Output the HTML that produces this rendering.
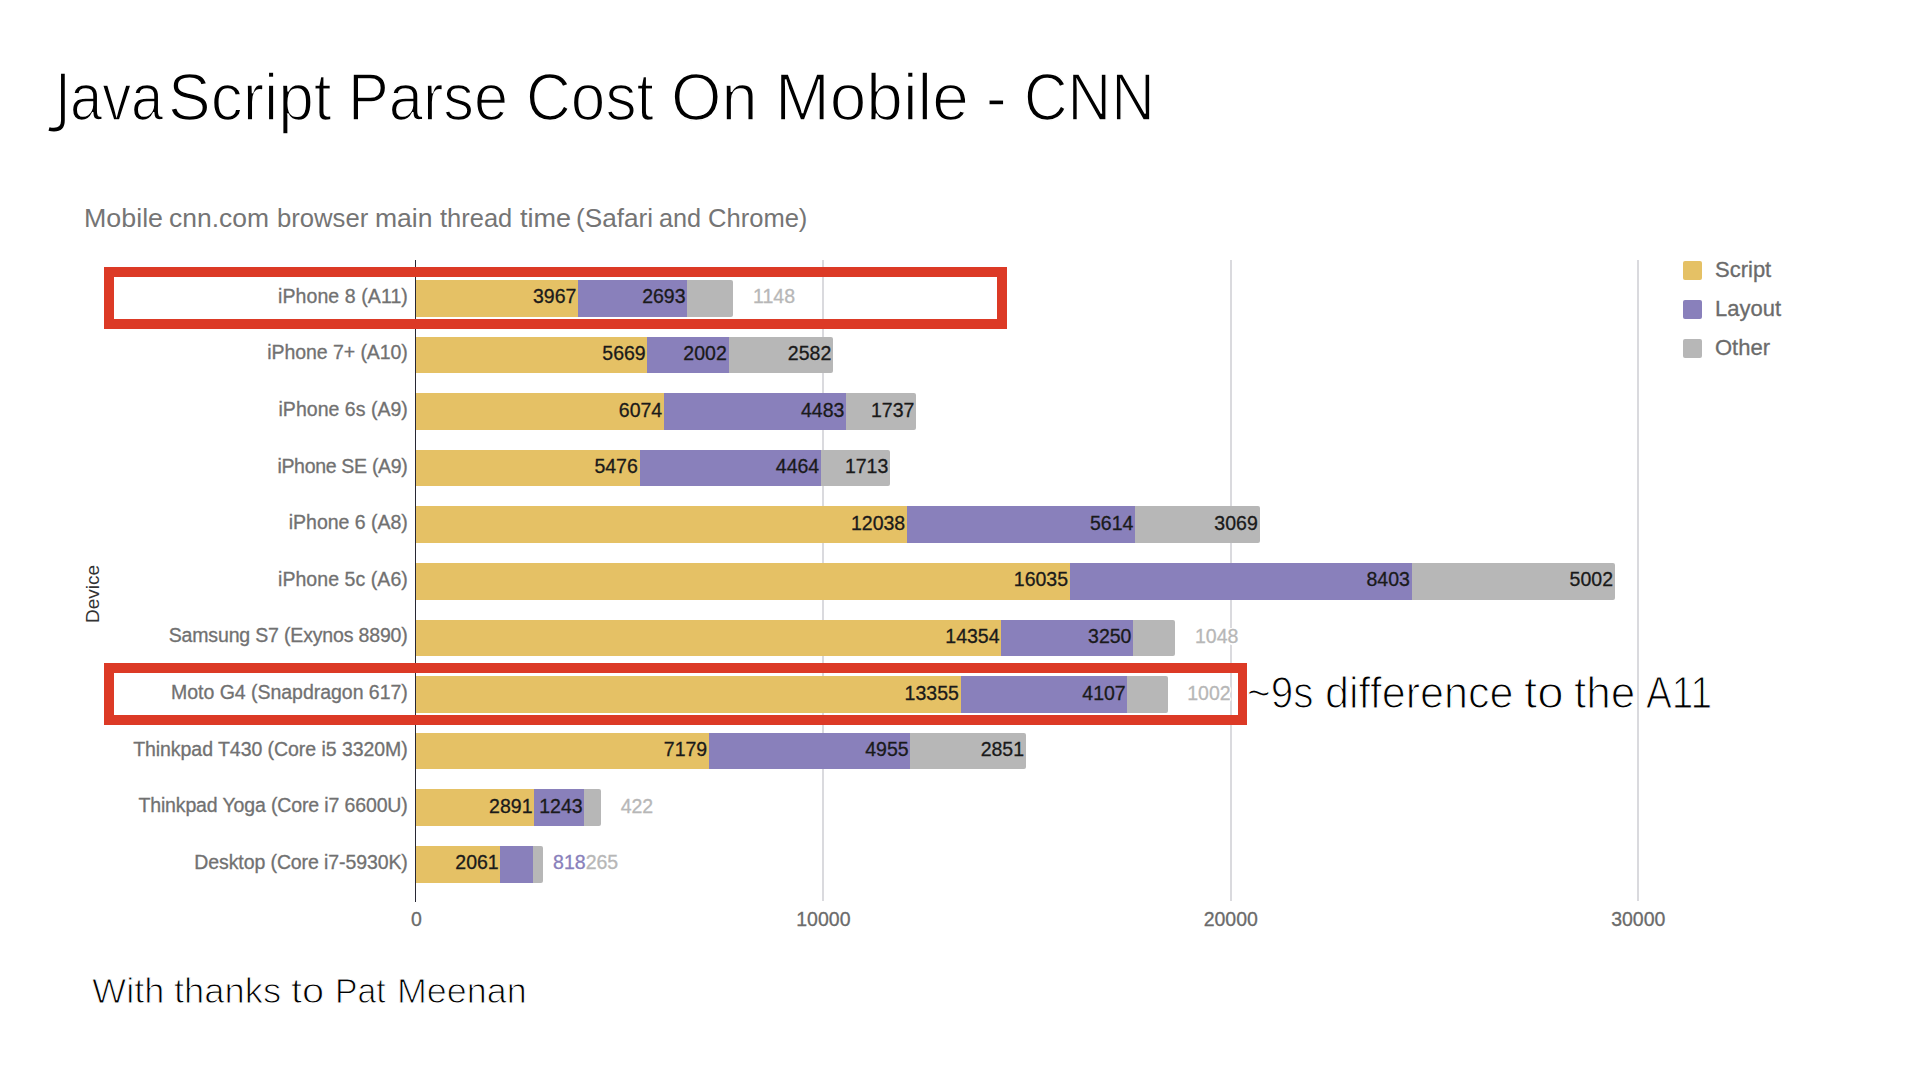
<!DOCTYPE html>
<html><head><meta charset="utf-8"><title>JavaScript Parse Cost On Mobile - CNN</title>
<style>
html,body{margin:0;padding:0;background:#fff;}
body{width:1920px;height:1080px;position:relative;overflow:hidden;font-family:"Liberation Sans", sans-serif;}
div{box-sizing:border-box;}
.bar{position:absolute;}
.ch{-webkit-text-stroke:0.3px currentColor;}
.halo{text-shadow:-1.5px 0 #fff,1.5px 0 #fff,0 -1.5px #fff,0 1.5px #fff,-1px -1px #fff,1px 1px #fff,-1px 1px #fff,1px -1px #fff;}
</style></head><body>
<svg style="position:absolute;left:0;top:0" width="120" height="140"><path d="M62.9,73.8 V120.5 C62.9,127 59.5,129.6 54,129.6 C52,129.6 50.5,129.4 49,129" fill="none" stroke="#000" stroke-width="3.7"/></svg>
<div style="position:absolute;top:64.11px;font-size:66.5px;line-height:66.5px;color:#000;white-space:nowrap;-webkit-text-stroke:1.6px #fff;left:70.34px;transform:scaleX(0.8699);transform-origin:0 0;">ava</div>
<div style="position:absolute;top:64.11px;font-size:66.5px;line-height:66.5px;color:#000;white-space:nowrap;-webkit-text-stroke:1.6px #fff;left:167.64px;transform:scaleX(0.9621);transform-origin:0 0;">Script</div>
<div style="position:absolute;top:64.11px;font-size:66.5px;line-height:66.5px;color:#000;white-space:nowrap;-webkit-text-stroke:1.6px #fff;left:348.38px;transform:scaleX(0.9209);transform-origin:0 0;">Parse</div>
<div style="position:absolute;top:64.11px;font-size:66.5px;line-height:66.5px;color:#000;white-space:nowrap;-webkit-text-stroke:1.6px #fff;left:526.48px;transform:scaleX(0.9338);transform-origin:0 0;">Cost</div>
<div style="position:absolute;top:64.11px;font-size:66.5px;line-height:66.5px;color:#000;white-space:nowrap;-webkit-text-stroke:1.6px #fff;left:671.05px;transform:scaleX(0.9757);transform-origin:0 0;">On</div>
<div style="position:absolute;top:64.11px;font-size:66.5px;line-height:66.5px;color:#000;white-space:nowrap;-webkit-text-stroke:1.6px #fff;left:774.63px;transform:scaleX(0.9890);transform-origin:0 0;">Mobile</div>
<div style="position:absolute;top:64.11px;font-size:66.5px;line-height:66.5px;color:#000;white-space:nowrap;-webkit-text-stroke:1.6px #fff;left:986.12px;transform:scaleX(0.9300);transform-origin:0 0;">-</div>
<div style="position:absolute;top:64.11px;font-size:66.5px;line-height:66.5px;color:#000;white-space:nowrap;-webkit-text-stroke:1.6px #fff;left:1023.56px;transform:scaleX(0.9073);transform-origin:0 0;">CNN</div>
<div style="position:absolute;top:205.84px;font-size:25px;line-height:25px;color:#757575;white-space:nowrap;left:84.15px;transform:scaleX(1.0729);transform-origin:0 0;">Mobile</div>
<div style="position:absolute;top:205.84px;font-size:25px;line-height:25px;color:#757575;white-space:nowrap;left:169.04px;transform:scaleX(1.0577);transform-origin:0 0;">cnn.com</div>
<div style="position:absolute;top:205.84px;font-size:25px;line-height:25px;color:#757575;white-space:nowrap;left:276.57px;transform:scaleX(1.0264);transform-origin:0 0;">browser</div>
<div style="position:absolute;top:205.84px;font-size:25px;line-height:25px;color:#757575;white-space:nowrap;left:374.94px;transform:scaleX(1.0615);transform-origin:0 0;">main</div>
<div style="position:absolute;top:205.84px;font-size:25px;line-height:25px;color:#757575;white-space:nowrap;left:439.90px;transform:scaleX(1.0188);transform-origin:0 0;">thread</div>
<div style="position:absolute;top:205.84px;font-size:25px;line-height:25px;color:#757575;white-space:nowrap;left:519.50px;transform:scaleX(1.0815);transform-origin:0 0;">time</div>
<div style="position:absolute;top:205.84px;font-size:25px;line-height:25px;color:#757575;white-space:nowrap;left:576.45px;transform:scaleX(1.0453);transform-origin:0 0;">(Safari</div>
<div style="position:absolute;top:205.84px;font-size:25px;line-height:25px;color:#757575;white-space:nowrap;left:659.09px;transform:scaleX(1.0099);transform-origin:0 0;">and</div>
<div style="position:absolute;top:205.84px;font-size:25px;line-height:25px;color:#757575;white-space:nowrap;left:708.18px;transform:scaleX(1.0220);transform-origin:0 0;">Chrome)</div>
<div style="position:absolute;left:822.40px;top:260px;width:2px;height:641px;background:#dadade"></div>
<div style="position:absolute;left:1229.80px;top:260px;width:2px;height:641px;background:#dadade"></div>
<div style="position:absolute;left:1637.30px;top:260px;width:2px;height:641px;background:#dadade"></div>
<div class="bar" style="left:416.00px;top:280.00px;width:162.13px;height:36.6px;background:#e5c165"></div>
<div class="bar" style="left:578.13px;top:280.00px;width:109.22px;height:36.6px;background:#8980bb"></div>
<div class="bar" style="left:687.35px;top:280.00px;width:46.07px;height:36.6px;background:#b7b7b7;border-radius:0 2px 2px 0"></div>
<div class="ch" style="position:absolute;top:286.89px;font-size:19.5px;line-height:19.5px;color:#717171;white-space:nowrap;letter-spacing:0.086px;right:1512.11px;text-align:right;">iPhone 8 (A11)</div>
<div class="ch" style="position:absolute;top:287.49px;font-size:19.5px;line-height:19.5px;color:#1a1a1a;white-space:nowrap;right:1343.67px;text-align:right;">3967</div>
<div class="ch" style="position:absolute;top:287.49px;font-size:19.5px;line-height:19.5px;color:#1a1a1a;white-space:nowrap;right:1234.45px;text-align:right;">2693</div>
<div class="ch halo" style="position:absolute;top:287.49px;font-size:19.5px;line-height:19.5px;color:#b7b7b7;white-space:nowrap;left:753.12px;">1148</div>
<div class="bar" style="left:416.00px;top:336.60px;width:231.47px;height:36.6px;background:#e5c165"></div>
<div class="bar" style="left:647.47px;top:336.60px;width:81.07px;height:36.6px;background:#8980bb"></div>
<div class="bar" style="left:728.54px;top:336.60px;width:104.50px;height:36.6px;background:#b7b7b7;border-radius:0 2px 2px 0"></div>
<div class="ch" style="position:absolute;top:343.49px;font-size:19.5px;line-height:19.5px;color:#717171;white-space:nowrap;letter-spacing:-0.074px;right:1512.27px;text-align:right;">iPhone 7+ (A10)</div>
<div class="ch" style="position:absolute;top:344.09px;font-size:19.5px;line-height:19.5px;color:#1a1a1a;white-space:nowrap;right:1274.33px;text-align:right;">5669</div>
<div class="ch" style="position:absolute;top:344.09px;font-size:19.5px;line-height:19.5px;color:#1a1a1a;white-space:nowrap;right:1193.26px;text-align:right;">2002</div>
<div class="ch" style="position:absolute;top:344.09px;font-size:19.5px;line-height:19.5px;color:#1a1a1a;white-space:nowrap;right:1088.76px;text-align:right;">2582</div>
<div class="bar" style="left:416.00px;top:393.20px;width:247.98px;height:36.6px;background:#e5c165"></div>
<div class="bar" style="left:663.98px;top:393.20px;width:182.15px;height:36.6px;background:#8980bb"></div>
<div class="bar" style="left:846.13px;top:393.20px;width:70.07px;height:36.6px;background:#b7b7b7;border-radius:0 2px 2px 0"></div>
<div class="ch" style="position:absolute;top:400.09px;font-size:19.5px;line-height:19.5px;color:#717171;white-space:nowrap;letter-spacing:0.025px;right:1512.17px;text-align:right;">iPhone 6s (A9)</div>
<div class="ch" style="position:absolute;top:400.69px;font-size:19.5px;line-height:19.5px;color:#1a1a1a;white-space:nowrap;right:1257.82px;text-align:right;">6074</div>
<div class="ch" style="position:absolute;top:400.69px;font-size:19.5px;line-height:19.5px;color:#1a1a1a;white-space:nowrap;right:1075.67px;text-align:right;">4483</div>
<div class="ch" style="position:absolute;top:400.69px;font-size:19.5px;line-height:19.5px;color:#1a1a1a;white-space:nowrap;right:1005.60px;text-align:right;">1737</div>
<div class="bar" style="left:416.00px;top:449.80px;width:223.61px;height:36.6px;background:#e5c165"></div>
<div class="bar" style="left:639.61px;top:449.80px;width:181.38px;height:36.6px;background:#8980bb"></div>
<div class="bar" style="left:820.99px;top:449.80px;width:69.09px;height:36.6px;background:#b7b7b7;border-radius:0 2px 2px 0"></div>
<div class="ch" style="position:absolute;top:456.69px;font-size:19.5px;line-height:19.5px;color:#717171;white-space:nowrap;letter-spacing:-0.306px;right:1512.51px;text-align:right;">iPhone SE (A9)</div>
<div class="ch" style="position:absolute;top:457.29px;font-size:19.5px;line-height:19.5px;color:#1a1a1a;white-space:nowrap;right:1282.19px;text-align:right;">5476</div>
<div class="ch" style="position:absolute;top:457.29px;font-size:19.5px;line-height:19.5px;color:#1a1a1a;white-space:nowrap;right:1100.81px;text-align:right;">4464</div>
<div class="ch" style="position:absolute;top:457.29px;font-size:19.5px;line-height:19.5px;color:#1a1a1a;white-space:nowrap;right:1031.72px;text-align:right;">1713</div>
<div class="bar" style="left:416.00px;top:506.40px;width:490.97px;height:36.6px;background:#e5c165"></div>
<div class="bar" style="left:906.97px;top:506.40px;width:228.23px;height:36.6px;background:#8980bb"></div>
<div class="bar" style="left:1135.20px;top:506.40px;width:124.34px;height:36.6px;background:#b7b7b7;border-radius:0 2px 2px 0"></div>
<div class="ch" style="position:absolute;top:513.29px;font-size:19.5px;line-height:19.5px;color:#717171;white-space:nowrap;letter-spacing:-0.018px;right:1512.22px;text-align:right;">iPhone 6 (A8)</div>
<div class="ch" style="position:absolute;top:513.89px;font-size:19.5px;line-height:19.5px;color:#1a1a1a;white-space:nowrap;right:1014.83px;text-align:right;">12038</div>
<div class="ch" style="position:absolute;top:513.89px;font-size:19.5px;line-height:19.5px;color:#1a1a1a;white-space:nowrap;right:786.60px;text-align:right;">5614</div>
<div class="ch" style="position:absolute;top:513.89px;font-size:19.5px;line-height:19.5px;color:#1a1a1a;white-space:nowrap;right:662.26px;text-align:right;">3069</div>
<div class="bar" style="left:416.00px;top:563.00px;width:653.82px;height:36.6px;background:#e5c165"></div>
<div class="bar" style="left:1069.82px;top:563.00px;width:341.87px;height:36.6px;background:#8980bb"></div>
<div class="bar" style="left:1411.69px;top:563.00px;width:203.10px;height:36.6px;background:#b7b7b7;border-radius:0 2px 2px 0"></div>
<div class="ch" style="position:absolute;top:569.89px;font-size:19.5px;line-height:19.5px;color:#717171;white-space:nowrap;letter-spacing:0.063px;right:1512.14px;text-align:right;">iPhone 5c (A6)</div>
<div class="ch" style="position:absolute;top:570.49px;font-size:19.5px;line-height:19.5px;color:#1a1a1a;white-space:nowrap;right:851.98px;text-align:right;">16035</div>
<div class="ch" style="position:absolute;top:570.49px;font-size:19.5px;line-height:19.5px;color:#1a1a1a;white-space:nowrap;right:510.11px;text-align:right;">8403</div>
<div class="ch" style="position:absolute;top:570.49px;font-size:19.5px;line-height:19.5px;color:#1a1a1a;white-space:nowrap;right:307.02px;text-align:right;">5002</div>
<div class="bar" style="left:416.00px;top:619.60px;width:585.33px;height:36.6px;background:#e5c165"></div>
<div class="bar" style="left:1001.33px;top:619.60px;width:131.92px;height:36.6px;background:#8980bb"></div>
<div class="bar" style="left:1133.25px;top:619.60px;width:42.00px;height:36.6px;background:#b7b7b7;border-radius:0 2px 2px 0"></div>
<div class="ch" style="position:absolute;top:626.49px;font-size:19.5px;line-height:19.5px;color:#717171;white-space:nowrap;letter-spacing:-0.164px;right:1512.36px;text-align:right;">Samsung S7 (Exynos 8890)</div>
<div class="ch" style="position:absolute;top:627.09px;font-size:19.5px;line-height:19.5px;color:#1a1a1a;white-space:nowrap;right:920.47px;text-align:right;">14354</div>
<div class="ch" style="position:absolute;top:627.09px;font-size:19.5px;line-height:19.5px;color:#1a1a1a;white-space:nowrap;right:788.55px;text-align:right;">3250</div>
<div class="ch halo" style="position:absolute;top:627.09px;font-size:19.5px;line-height:19.5px;color:#b7b7b7;white-space:nowrap;left:1194.94px;">1048</div>
<div class="bar" style="left:416.00px;top:676.20px;width:544.63px;height:36.6px;background:#e5c165"></div>
<div class="bar" style="left:960.63px;top:676.20px;width:166.83px;height:36.6px;background:#8980bb"></div>
<div class="bar" style="left:1127.46px;top:676.20px;width:40.12px;height:36.6px;background:#b7b7b7;border-radius:0 2px 2px 0"></div>
<div class="ch" style="position:absolute;top:683.09px;font-size:19.5px;line-height:19.5px;color:#717171;white-space:nowrap;letter-spacing:-0.03px;right:1512.23px;text-align:right;">Moto G4 (Snapdragon 617)</div>
<div class="ch" style="position:absolute;top:683.69px;font-size:19.5px;line-height:19.5px;color:#1a1a1a;white-space:nowrap;right:961.17px;text-align:right;">13355</div>
<div class="ch" style="position:absolute;top:683.69px;font-size:19.5px;line-height:19.5px;color:#1a1a1a;white-space:nowrap;right:794.34px;text-align:right;">4107</div>
<div class="ch halo" style="position:absolute;top:683.69px;font-size:19.5px;line-height:19.5px;color:#b7b7b7;white-space:nowrap;left:1187.28px;">1002</div>
<div class="bar" style="left:416.00px;top:732.80px;width:293.00px;height:36.6px;background:#e5c165"></div>
<div class="bar" style="left:709.00px;top:732.80px;width:201.38px;height:36.6px;background:#8980bb"></div>
<div class="bar" style="left:910.38px;top:732.80px;width:115.46px;height:36.6px;background:#b7b7b7;border-radius:0 2px 2px 0"></div>
<div class="ch" style="position:absolute;top:739.69px;font-size:19.5px;line-height:19.5px;color:#717171;white-space:nowrap;letter-spacing:-0.049px;right:1512.25px;text-align:right;">Thinkpad T430 (Core i5 3320M)</div>
<div class="ch" style="position:absolute;top:740.29px;font-size:19.5px;line-height:19.5px;color:#1a1a1a;white-space:nowrap;right:1212.80px;text-align:right;">7179</div>
<div class="ch" style="position:absolute;top:740.29px;font-size:19.5px;line-height:19.5px;color:#1a1a1a;white-space:nowrap;right:1011.42px;text-align:right;">4955</div>
<div class="ch" style="position:absolute;top:740.29px;font-size:19.5px;line-height:19.5px;color:#1a1a1a;white-space:nowrap;right:895.96px;text-align:right;">2851</div>
<div class="bar" style="left:416.00px;top:789.40px;width:118.29px;height:36.6px;background:#e5c165"></div>
<div class="bar" style="left:534.29px;top:789.40px;width:50.14px;height:36.6px;background:#8980bb"></div>
<div class="bar" style="left:584.43px;top:789.40px;width:16.49px;height:36.6px;background:#b7b7b7;border-radius:0 2px 2px 0"></div>
<div class="ch" style="position:absolute;top:796.29px;font-size:19.5px;line-height:19.5px;color:#717171;white-space:nowrap;letter-spacing:-0.135px;right:1512.34px;text-align:right;">Thinkpad Yoga (Core i7 6600U)</div>
<div class="ch" style="position:absolute;top:796.89px;font-size:19.5px;line-height:19.5px;color:#1a1a1a;white-space:nowrap;right:1387.51px;text-align:right;">2891</div>
<div class="ch" style="position:absolute;top:796.89px;font-size:19.5px;line-height:19.5px;color:#1a1a1a;white-space:nowrap;right:1337.37px;text-align:right;">1243</div>
<div class="ch halo" style="position:absolute;top:796.89px;font-size:19.5px;line-height:19.5px;color:#b7b7b7;white-space:nowrap;left:620.63px;">422</div>
<div class="bar" style="left:416.00px;top:846.00px;width:84.47px;height:36.6px;background:#e5c165"></div>
<div class="bar" style="left:500.47px;top:846.00px;width:32.83px;height:36.6px;background:#8980bb"></div>
<div class="bar" style="left:533.30px;top:846.00px;width:10.10px;height:36.6px;background:#b7b7b7;border-radius:0 2px 2px 0"></div>
<div class="ch" style="position:absolute;top:852.89px;font-size:19.5px;line-height:19.5px;color:#717171;white-space:nowrap;letter-spacing:-0.101px;right:1512.30px;text-align:right;">Desktop (Core i7-5930K)</div>
<div class="ch" style="position:absolute;top:853.49px;font-size:19.5px;line-height:19.5px;color:#1a1a1a;white-space:nowrap;right:1421.33px;text-align:right;">2061</div>
<div class="ch halo" style="position:absolute;top:853.49px;font-size:19.5px;line-height:19.5px;color:#b7b7b7;white-space:nowrap;left:553.10px;"><span style="color:#8980bb">818</span><span style="color:#b7b7b7">265</span></div>
<div style="position:absolute;left:414.8px;top:260px;width:1.4px;height:642px;background:#282834"></div>
<div class="ch" style="position:absolute;top:910.49px;font-size:19.5px;line-height:19.5px;color:#6b6b6b;white-space:nowrap;left:116.50px;width:600px;text-align:center;">0</div>
<div class="ch" style="position:absolute;top:910.49px;font-size:19.5px;line-height:19.5px;color:#6b6b6b;white-space:nowrap;left:523.40px;width:600px;text-align:center;">10000</div>
<div class="ch" style="position:absolute;top:910.49px;font-size:19.5px;line-height:19.5px;color:#6b6b6b;white-space:nowrap;left:930.80px;width:600px;text-align:center;">20000</div>
<div class="ch" style="position:absolute;top:910.49px;font-size:19.5px;line-height:19.5px;color:#6b6b6b;white-space:nowrap;left:1338.30px;width:600px;text-align:center;">30000</div>
<div style="position:absolute;left:1683px;top:261.00px;width:19px;height:19px;background:#e5c165;border-radius:2px"></div>
<div class="ch" style="position:absolute;top:259.38px;font-size:22px;line-height:22px;color:#6b6b6b;white-space:nowrap;left:1715.00px;">Script</div>
<div style="position:absolute;left:1683px;top:299.75px;width:19px;height:19px;background:#8980bb;border-radius:2px"></div>
<div class="ch" style="position:absolute;top:298.13px;font-size:22px;line-height:22px;color:#6b6b6b;white-space:nowrap;left:1715.00px;">Layout</div>
<div style="position:absolute;left:1683px;top:338.50px;width:19px;height:19px;background:#b7b7b7;border-radius:2px"></div>
<div class="ch" style="position:absolute;top:336.88px;font-size:22px;line-height:22px;color:#6b6b6b;white-space:nowrap;left:1715.00px;">Other</div>
<div style="position:absolute;left:93px;top:594px;width:0;height:0;"><div style="position:absolute;left:-50px;top:-11px;width:100px;height:22px;line-height:22px;text-align:center;font-size:19px;color:#333;transform:rotate(-90deg);">Device</div></div>
<div style="position:absolute;left:104px;top:267px;width:903px;height:62px;border:10px solid #dc3a26"></div>
<div style="position:absolute;left:104px;top:663px;width:1143.2px;height:61.5px;border:10px solid #dc3a26;border-right-width:9.4px"></div>
<div style="position:absolute;top:671.15px;font-size:44px;line-height:44px;color:#000;white-space:nowrap;-webkit-text-stroke:1.2px #fff;left:1247.29px;transform:scaleX(0.9204);transform-origin:0 0;">~9s</div>
<div style="position:absolute;top:671.15px;font-size:44px;line-height:44px;color:#000;white-space:nowrap;-webkit-text-stroke:1.2px #fff;left:1325.38px;transform:scaleX(0.9795);transform-origin:0 0;">difference</div>
<div style="position:absolute;top:671.15px;font-size:44px;line-height:44px;color:#000;white-space:nowrap;-webkit-text-stroke:1.2px #fff;left:1524.46px;transform:scaleX(1.0782);transform-origin:0 0;">to</div>
<div style="position:absolute;top:671.15px;font-size:44px;line-height:44px;color:#000;white-space:nowrap;-webkit-text-stroke:1.2px #fff;left:1574.46px;transform:scaleX(1.0023);transform-origin:0 0;">the</div>
<div style="position:absolute;top:671.15px;font-size:44px;line-height:44px;color:#000;white-space:nowrap;-webkit-text-stroke:1.2px #fff;left:1646.36px;transform:scaleX(0.8807);transform-origin:0 0;">A11</div>
<div style="position:absolute;top:973.42px;font-size:35.3px;line-height:35.3px;color:#000;white-space:nowrap;-webkit-text-stroke:1.0px #fff;left:92.30px;transform:scaleX(1.0245);transform-origin:0 0;">With</div>
<div style="position:absolute;top:973.42px;font-size:35.3px;line-height:35.3px;color:#000;white-space:nowrap;-webkit-text-stroke:1.0px #fff;left:173.95px;transform:scaleX(1.0305);transform-origin:0 0;">thanks</div>
<div style="position:absolute;top:973.42px;font-size:35.3px;line-height:35.3px;color:#000;white-space:nowrap;-webkit-text-stroke:1.0px #fff;left:291.45px;transform:scaleX(1.1282);transform-origin:0 0;">to</div>
<div style="position:absolute;top:973.42px;font-size:35.3px;line-height:35.3px;color:#000;white-space:nowrap;-webkit-text-stroke:1.0px #fff;left:334.89px;transform:scaleX(0.9556);transform-origin:0 0;">Pat</div>
<div style="position:absolute;top:973.42px;font-size:35.3px;line-height:35.3px;color:#000;white-space:nowrap;-webkit-text-stroke:1.0px #fff;left:396.92px;transform:scaleX(1.0159);transform-origin:0 0;">Meenan</div>
</body></html>
